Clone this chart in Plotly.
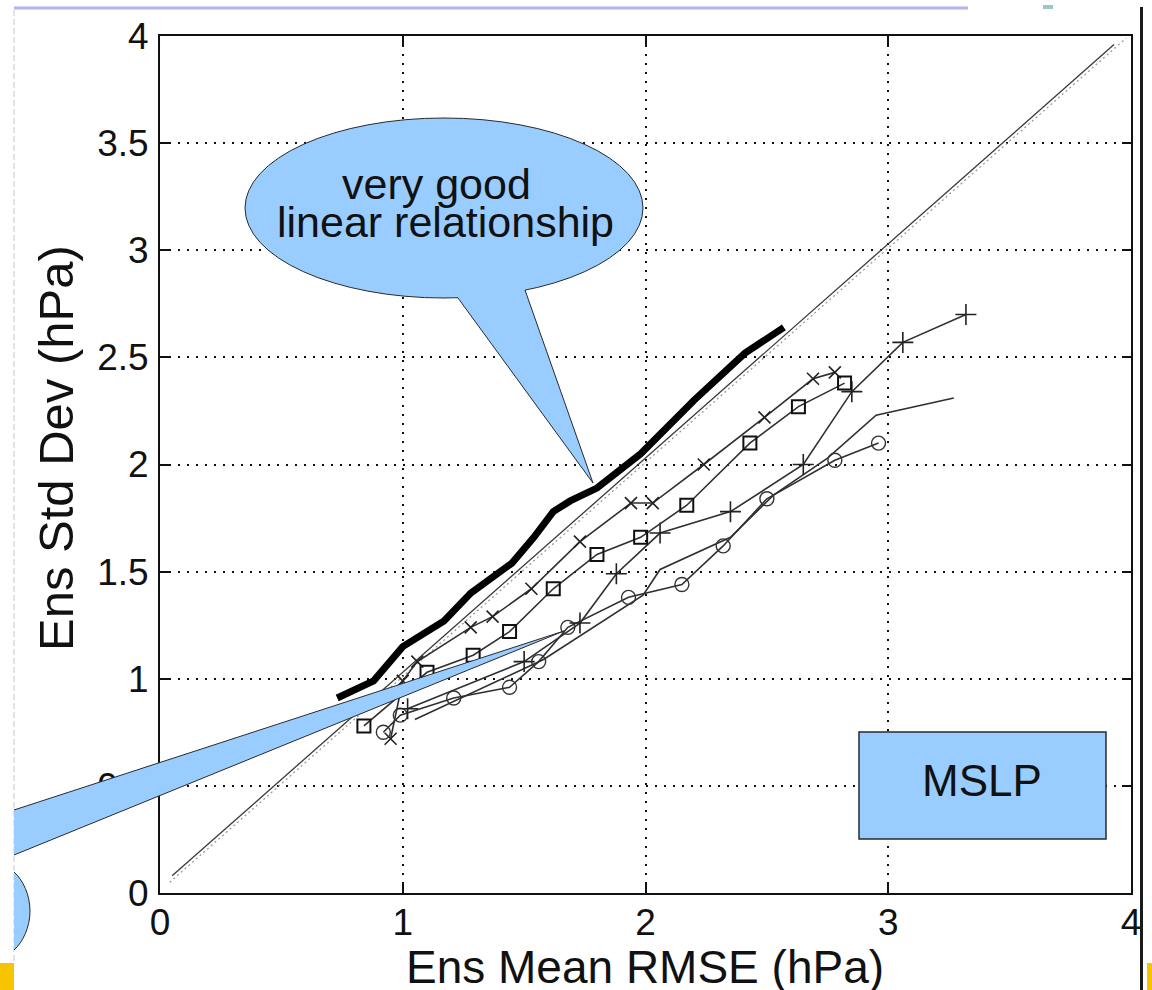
import plotly.graph_objects as go

# ---------------- data ----------------
x_ticks = [0, 1, 2, 3, 4]
x_tick_labels = ["0", "1", "2", "3", "4"]
y_ticks = [0, 0.5, 1, 1.5, 2, 2.5, 3, 3.5, 4]
y_tick_labels = ["0", "0.5", "1", "1.5", "2", "2.5", "3", "3.5", "4"]

diag_x = [0.05, 3.93]
diag_y = [0.08, 3.96]
ref_x = [0.04, 3.98]
ref_y = [0.05, 3.99]

thick_x = [0.73, 0.88, 1.00, 1.17, 1.28, 1.45, 1.54, 1.62, 1.69, 1.80, 1.98, 2.20, 2.41, 2.57]
thick_y = [0.91, 0.99, 1.15, 1.27, 1.40, 1.54, 1.66, 1.78, 1.83, 1.89, 2.05, 2.30, 2.52, 2.64]

sq_x = [0.84, 1.10, 1.29, 1.44, 1.62, 1.80, 1.98, 2.17, 2.43, 2.63, 2.82]
sq_y = [0.78, 1.03, 1.11, 1.22, 1.42, 1.58, 1.66, 1.81, 2.10, 2.27, 2.38]

xm_x = [0.95, 1.00, 1.06, 1.28, 1.37, 1.53, 1.73, 1.94, 2.03, 2.24, 2.49, 2.69, 2.78]
xm_y = [0.72, 0.99, 1.08, 1.24, 1.29, 1.42, 1.64, 1.82, 1.82, 2.00, 2.22, 2.40, 2.43]

pl_x = [1.02, 1.50, 1.73, 1.88, 2.06, 2.35, 2.65, 2.85, 3.06, 3.32]
pl_y = [0.86, 1.08, 1.26, 1.49, 1.68, 1.78, 2.00, 2.34, 2.57, 2.70]

ci_x = [0.92, 0.99, 1.21, 1.44, 1.56, 1.68, 1.93, 2.15, 2.32, 2.50, 2.78, 2.96]
ci_y = [0.75, 0.83, 0.91, 0.96, 1.08, 1.24, 1.38, 1.44, 1.62, 1.84, 2.02, 2.10]

pn_x = [1.05, 1.58, 1.99, 2.06, 2.35, 2.53, 2.75, 2.95, 3.27]
pn_y = [0.81, 1.09, 1.39, 1.51, 1.66, 1.86, 2.03, 2.23, 2.31]

x_title = "Ens Mean RMSE (hPa)"
y_title = "Ens Std Dev (hPa)"
callout_lines = ["very good", "linear relationship"]
box_label = "MSLP"

# ---------------- layout geometry ----------------
W_FIG, H_FIG = 1152, 990
L, R, T, B = 160, 1131, 36, 893
PW, PH = R - L, B - T
FONT = "Liberation Sans, Arial, Helvetica, sans-serif"
BLUE = "#99ccff"
EDGE = "#2a2a2a"


def px(p):
    return (p - L) / PW


def py(p):
    return (B - p) / PH


def path(points, close=True):
    s = "M " + " L ".join(f"{px(a):.5f},{py(b):.5f}" for a, b in points)
    return s + (" Z" if close else "")


fig = go.Figure()

line_col = "#303030"
fig.add_trace(go.Scatter(x=ref_x, y=ref_y, mode="lines",
                         line=dict(color="#9a9a9a", width=1.3, dash="2px,3px")))
fig.add_trace(go.Scatter(x=diag_x, y=diag_y, mode="lines",
                         line=dict(color="#3a3a3a", width=1.3)))
fig.add_trace(go.Scatter(x=pn_x, y=pn_y, mode="lines",
                         line=dict(color=line_col, width=1.6)))
fig.add_trace(go.Scatter(x=ci_x, y=ci_y, mode="lines+markers",
                         line=dict(color=line_col, width=1.6),
                         marker=dict(symbol="circle-open", size=14, color="#333",
                                     line=dict(width=1.4))))
fig.add_trace(go.Scatter(x=pl_x, y=pl_y, mode="lines+markers",
                         line=dict(color=line_col, width=1.6),
                         marker=dict(symbol="cross-thin-open", size=15, color="#222",
                                     line=dict(width=1.6))))
fig.add_trace(go.Scatter(x=xm_x, y=xm_y, mode="lines+markers",
                         line=dict(color=line_col, width=1.6),
                         marker=dict(symbol="x-thin-open", size=12, color="#222",
                                     line=dict(width=1.6))))
fig.add_trace(go.Scatter(x=sq_x, y=sq_y, mode="lines+markers",
                         line=dict(color=line_col, width=1.6),
                         marker=dict(symbol="square-open", size=13, color="#111",
                                     line=dict(width=2))))
fig.add_trace(go.Scatter(x=thick_x, y=thick_y, mode="lines",
                         line=dict(color="black", width=7)))

axis_common = dict(
    range=[0, 4], showgrid=True, gridcolor="#111", gridwidth=1.6, griddash="2px,7px",
    showline=True, linecolor="#111", linewidth=2, mirror="ticks",
    ticks="inside", ticklen=9, tickwidth=1.5, tickcolor="#111",
    tickfont=dict(family=FONT, size=37, color="#111"), zeroline=False,
    fixedrange=True,
)
fig.update_xaxes(tickvals=x_ticks, ticktext=x_tick_labels, ticklabelstandoff=-4, **axis_common)
fig.update_yaxes(tickvals=y_ticks, ticktext=y_tick_labels, ticklabelstandoff=2, **axis_common)

shapes = []
# slide decorations
shapes.append(dict(type="line", xref="paper", yref="paper", x0=px(14), x1=px(968), y0=py(8), y1=py(8),
                   line=dict(color="#b4b4ee", width=3), layer="above"))
shapes.append(dict(type="rect", xref="paper", yref="paper", x0=px(1043), x1=px(1053), y0=py(5), y1=py(9),
                   fillcolor="#9cc6c6", line=dict(width=0), layer="above"))
shapes.append(dict(type="line", xref="paper", yref="paper", x0=px(14), x1=px(14), y0=py(10), y1=py(963),
                   line=dict(color="#c8c8c8", width=1, dash="6px,3px"), layer="above"))
shapes.append(dict(type="line", xref="paper", yref="paper", x0=px(1141.5), x1=px(1141.5), y0=py(7), y1=py(990),
                   line=dict(color="#1a1a1a", width=3), layer="above"))
shapes.append(dict(type="rect", xref="paper", yref="paper", x0=px(0), x1=px(14), y0=py(963), y1=py(990),
                   fillcolor="#f6c400", line=dict(width=0), layer="above"))
shapes.append(dict(type="rect", xref="paper", yref="paper", x0=px(1147), x1=px(1152), y0=py(963), y1=py(990),
                   fillcolor="#f6c400", line=dict(width=0), layer="above"))

# callout 1: ellipse + tail
shapes.append(dict(type="circle", xref="paper", yref="paper", x0=px(245), x1=px(643), y0=py(298), y1=py(118),
                   fillcolor=BLUE, line=dict(color=EDGE, width=1), layer="above"))
shapes.append(dict(type="path", xref="paper", yref="paper",
                   path=path([(458, 298), (458, 280), (525, 280), (525, 290), (593, 483)]),
                   fillcolor=BLUE, line=dict(width=0), layer="above"))
shapes.append(dict(type="path", xref="paper", yref="paper",
                   path=path([(458, 298), (593, 483), (525, 290)], close=False),
                   line=dict(color=EDGE, width=1), layer="above"))

# callout 2: long wedge from lower-left
shapes.append(dict(type="path", xref="paper", yref="paper",
                   path=path([(14, 810), (564, 631), (14, 855)]),
                   fillcolor=BLUE, line=dict(width=0), layer="above"))
shapes.append(dict(type="path", xref="paper", yref="paper",
                   path=path([(14, 810), (564, 631), (14, 855)], close=False),
                   line=dict(color=EDGE, width=1), layer="above"))


# partial ellipse bottom-left
def cpath(pts):
    (x0, y0), rest = pts[0], pts[1:]
    s = f"M {px(x0):.5f},{py(y0):.5f}"
    for i in range(0, len(rest), 3):
        a, b, c = rest[i:i + 3]
        s += (f" C {px(a[0]):.5f},{py(a[1]):.5f} {px(b[0]):.5f},{py(b[1]):.5f}"
              f" {px(c[0]):.5f},{py(c[1]):.5f}")
    return s


half = [(14, 872), (23, 880), (30, 895), (30, 911), (30, 927), (23, 942), (14, 950)]
shapes.append(dict(type="path", xref="paper", yref="paper", path=cpath(half) + " Z",
                   fillcolor=BLUE, line=dict(width=0), layer="above"))
shapes.append(dict(type="path", xref="paper", yref="paper", path=cpath(half),
                   line=dict(color=EDGE, width=1), layer="above"))

# MSLP box
shapes.append(dict(type="rect", xref="paper", yref="paper", x0=px(859), x1=px(1106), y0=py(839), y1=py(732),
                   fillcolor=BLUE, line=dict(color=EDGE, width=1.5), layer="above"))

annotations = [
    dict(text=callout_lines[0], x=px(436), y=py(184), xref="paper", yref="paper",
         showarrow=False, xanchor="center", yanchor="middle",
         font=dict(family=FONT, size=43, color="#111")),
    dict(text=callout_lines[1], x=px(445), y=py(222), xref="paper", yref="paper",
         showarrow=False, xanchor="center", yanchor="middle",
         font=dict(family=FONT, size=43, color="#111")),
    dict(text=box_label, x=px(982), y=py(780), xref="paper", yref="paper",
         showarrow=False, xanchor="center", yanchor="middle",
         font=dict(family=FONT, size=44, color="#111")),
    dict(text=x_title, x=px(645), y=py(967), xref="paper", yref="paper",
         showarrow=False, xanchor="center", yanchor="middle",
         font=dict(family=FONT, size=46, color="#111")),
    dict(text=y_title, x=px(56), y=py(448), xref="paper", yref="paper",
         showarrow=False, xanchor="center", yanchor="middle", textangle=-90,
         font=dict(family=FONT, size=49, color="#111")),
]

fig.update_layout(
    width=W_FIG, height=H_FIG,
    margin=dict(l=L, r=W_FIG - R, t=T, b=H_FIG - B, autoexpand=False),
    paper_bgcolor="white", plot_bgcolor="white",
    showlegend=False, shapes=shapes, annotations=annotations,
    font=dict(family=FONT),
)

fig.write_html(
    "out.html",
    config={"displayModeBar": False},
    post_script="document.body.style.margin='0';document.body.style.overflow='hidden';",
)
